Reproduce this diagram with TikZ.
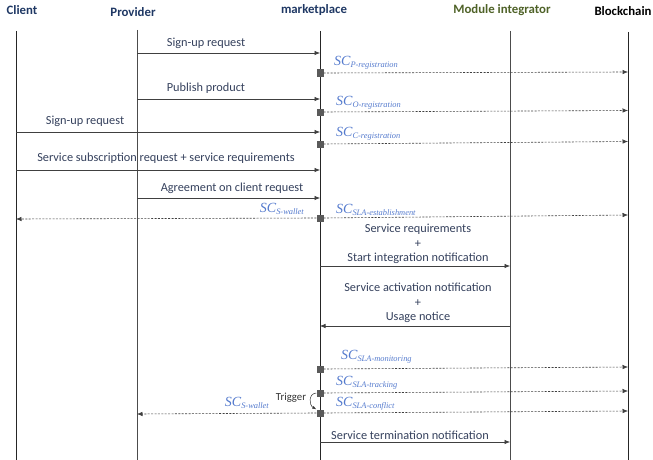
\documentclass[tikz,border=0pt]{standalone}
\usepackage{fontspec}
\setmainfont{Carlito}
\newfontfamily\scfont{Liberation Serif}
\usetikzlibrary{arrows.meta}
\definecolor{hdrblue}{RGB}{31,56,100}
\definecolor{hdrgreen}{RGB}{79,98,40}
\definecolor{msgcol}{RGB}{52,64,92}
\definecolor{sccol}{RGB}{84,122,205}
\definecolor{sqcol}{RGB}{90,90,90}
\newcommand{\smc}[1]{{\scfont\itshape\fontsize{14}{15}\selectfont SC\raisebox{-0.35ex}{\fontsize{8.4}{9}\selectfont #1}}}
\begin{document}
\begin{tikzpicture}[x=1pt,y=-1pt,
  life/.style={line width=0.8pt, black!85},
  msg/.style={-{Latex[length=5.5pt,width=4.5pt]}, line width=0.6pt, black!75},
  scl/.style={-{Latex[length=5.5pt,width=4.5pt]}, dash pattern=on 2pt off 1.4pt, line width=0.6pt, black!75},
  lbl/.style={font=\fontsize{12.3}{14.5}\selectfont, text=msgcol, inner sep=0pt},
  sclbl/.style={text=sccol, inner sep=0pt, anchor=west},
  sq/.style={fill=sqcol, minimum size=7pt, inner sep=0pt, draw=none},
  hdr/.style={font=\bfseries\fontsize{12.8}{14}\selectfont, inner sep=0pt}]
\useasboundingbox (0,0) rectangle (653,460);
% headers
\node[hdr, text=hdrblue] (hC) at (22,10) {Client};
\node[hdr, text=hdrblue] (hP) at (133,12) {Provider};
\node[hdr, text=hdrblue] (hM) at (314,10) {marketplace};
\node[hdr, text=hdrgreen] (hI) at (502,10) {Module integrator};
\node[hdr, text=black] (hB) at (623,11) {Blockchain};
% lifelines
\coordinate (cT) at (16,31); \coordinate (cB) at (16,460);
\coordinate (pT) at (137,30); \coordinate (pB) at (137,460);
\coordinate (mT) at (320,31); \coordinate (mB) at (320,460);
\coordinate (iT) at (510,31); \coordinate (iB) at (510,460);
\coordinate (bT) at (628,32); \coordinate (bB) at (628,460);
\draw[life] (cT) -- (cB);
\draw[life, black!70] (pT) -- (pB);
\draw[life] (mT) -- (mB);
\draw[life, black!70] (iT) -- (iB);
\draw[life] (bT) -- (bB);
% y levels
\coordinate (y1) at (0,53);
\coordinate (y2) at (0,73);   \coordinate (y2e) at (0,72);
\coordinate (y3) at (0,99);
\coordinate (y4) at (0,112);  \coordinate (y4e) at (0,110.5);
\coordinate (y5) at (0,132);
\coordinate (y6) at (0,144);  \coordinate (y6e) at (0,141.5);
\coordinate (y7) at (0,170);
\coordinate (y8) at (0,198);
\coordinate (y9) at (0,218);  \coordinate (y9e) at (0,215); \coordinate (y9w) at (0,219);
\coordinate (y10) at (0,266);
\coordinate (y11) at (0,326);
\coordinate (y12) at (0,369); \coordinate (y12e) at (0,367);
\coordinate (y13) at (0,393); \coordinate (y13e) at (0,391);
\coordinate (y14) at (0,413); \coordinate (y14e) at (0,411); \coordinate (y14w) at (0,414);
\coordinate (y15) at (0,442);
% 1 sign-up provider
\node[lbl] (t1) at (206,43) {Sign-up request};
\draw[msg] (pT |- y1) -- (mT |- y1);
% 2 SC P-registration
\node[sq] (s2) at (mT |- y2) {};
\draw[scl] (s2.east) -- (bT |- y2e);
\node[sclbl] (l2) at (334,63) {\smc{P-registration}};
% 3 publish product
\node[lbl] (t3) at (206,88) {Publish product};
\draw[msg] (pT |- y3) -- (mT |- y3);
% 4 SC O-registration
\node[sq] (s4) at (mT |- y4) {};
\draw[scl] (s4.east) -- (bT |- y4e);
\node[sclbl] (l4) at (336,103) {\smc{O-registration}};
% 5 sign-up client
\node[lbl] (t5) at (85,121) {Sign-up request};
\draw[msg] (cT |- y5) -- (mT |- y5);
% 6 SC C-registration
\node[sq] (s6) at (mT |- y6) {};
\draw[scl] (s6.east) -- (bT |- y6e);
\node[sclbl] (l6) at (336,134) {\smc{C-registration}};
% 7 subscription
\node[lbl] (t7) at (166,158) {Service subscription request + service requirements};
\draw[msg] (cT |- y7) -- (mT |- y7);
% 8 agreement
\node[lbl] (t8) at (232,188) {Agreement on client request};
\draw[msg] (pT |- y8) -- (mT |- y8);
% 9 SLA establishment
\node[sq] (s9) at (mT |- y9) {};
\draw[scl] (s9.east) -- (bT |- y9e);
\draw[scl] (s9.west) -- (cT |- y9w);
\node[sclbl, anchor=east] (l9a) at (304,209) {\smc{S-wallet}};
\node[sclbl] (l9b) at (336,210) {\smc{SLA-establishment}};
% 10 start integration
\node[lbl, align=center] (t10) at (418,244) {Service requirements\\+\\Start integration notification};
\draw[msg] (mT |- y10) -- (iT |- y10);
% 11 activation
\node[lbl, align=center] (t11) at (418,303) {Service activation notification\\+\\Usage notice};
\draw[msg] (iT |- y11) -- (mT |- y11);
% 12 monitoring
\node[sq] (s12) at (mT |- y12) {};
\draw[scl] (s12.east) -- (bT |- y12e);
\node[sclbl] (l12) at (341,357) {\smc{SLA-monitoring}};
% 13 tracking
\node[sq] (s13) at (mT |- y13) {};
\draw[scl] (s13.east) -- (bT |- y13e);
\node[sclbl] (l13) at (336,383) {\smc{SLA-tracking}};
% 14 conflict
\node[sq] (s14) at (mT |- y14) {};
\draw[scl] (s14.east) -- (bT |- y14e);
\draw[scl] (s14.west) -- (pT |- y14w);
\node[sclbl] (l14) at (336,404) {\smc{SLA-conflict}};
\node[sclbl, anchor=east] (l14a) at (269,403) {\smc{S-wallet}};
% trigger
\draw[-{Latex[length=4pt,width=3pt]}, line width=0.5pt, black!80] (s13.west) to[out=185,in=150, looseness=1.3] (s14.north west);
\node[lbl, text=black!80, font=\fontsize{10.8}{12}\selectfont] (tr) at (291,398) {Trigger};
% 15 termination
\node[lbl] (t15) at (410,435) {Service termination notification};
\draw[msg] (mT |- y15) -- (iT |- y15);
\end{tikzpicture}
\end{document}
